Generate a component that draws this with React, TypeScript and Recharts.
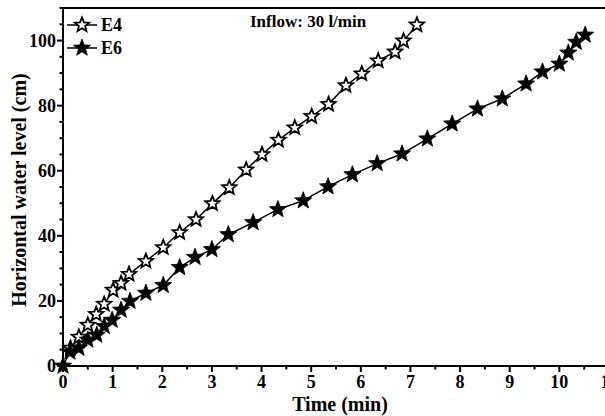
import React from 'react';
import { LineChart, Line, XAxis, YAxis, ReferenceLine } from 'recharts';

// E4 (open stars) and E6 (filled stars)
const e4Time = [0.15, 0.32, 0.5, 0.67, 0.83, 1.01, 1.17, 1.33, 1.67, 2.02, 2.35, 2.68, 3.01, 3.35, 3.69, 4.01, 4.34, 4.67, 5.01, 5.35, 5.7, 6.02, 6.35, 6.69, 6.86, 7.13];
const e4Level = [5.5, 8.9, 12.6, 15.9, 19.0, 23.3, 25.4, 28.2, 32.2, 36.4, 41.0, 45.0, 49.9, 54.8, 60.3, 65.0, 69.4, 73.2, 76.7, 80.4, 86.2, 89.8, 93.8, 96.5, 99.9, 104.8];

const e6Time = [0, 0.14, 0.32, 0.5, 0.68, 0.83, 0.99, 1.17, 1.35, 1.67, 2.02, 2.35, 2.66, 3.0, 3.33, 3.83, 4.33, 4.84, 5.34, 5.83, 6.33, 6.83, 7.34, 7.84, 8.35, 8.85, 9.33, 9.66, 10.0, 10.18, 10.34, 10.52];
const e6Level = [0, 4.3, 5.5, 8.0, 9.5, 12.2, 14.1, 17.2, 19.9, 22.4, 24.8, 30.3, 33.4, 35.8, 40.4, 44.1, 48.1, 50.8, 55.1, 58.8, 62.2, 65.2, 69.8, 74.4, 79.0, 82.1, 86.7, 90.4, 92.8, 96.2, 99.5, 101.7];

const seriesNames = ['E4', 'E6'];
const xTicks = [0, 0.5, 1, 1.5, 2, 2.5, 3, 3.5, 4, 4.5, 5, 5.5, 6, 6.5, 7, 7.5, 8, 8.5, 9, 9.5, 10, 10.5, 11];
const yTicks = [0, 5, 10, 15, 20, 25, 30, 35, 40, 45, 50, 55, 60, 65, 70, 75, 80, 85, 90, 95, 100, 105, 110];
const yLabelled = [0, 20, 40, 60, 80, 100];

const e4Data = e4Time.map((t, i) => ({ t, v: e4Level[i] }));
const e6Data = e6Time.map((t, i) => ({ t, v: e6Level[i] }));

const FONT = '"Liberation Serif", "Times New Roman", serif';

function starPoints(cx: number, cy: number, R: number, r: number) {
  const pts: string[] = [];
  for (let k = 0; k < 10; k++) {
    const rad = k % 2 === 0 ? R : r;
    const a = -Math.PI / 2 + (k * Math.PI) / 5;
    pts.push(`${(cx + rad * Math.cos(a)).toFixed(2)},${(cy + rad * Math.sin(a)).toFixed(2)}`);
  }
  return pts.join(' ');
}

const Star = ({ cx, cy, filled }: { cx: number; cy: number; filled: boolean }) =>
  filled ? (
    <polygon points={starPoints(cx, cy, 9, 3.8)} fill="#000" stroke="#000" strokeWidth={0.8} />
  ) : (
    <polygon points={starPoints(cx, cy, 7.5, 3.3)} fill="#fff" stroke="#000" strokeWidth={1.8} />
  );

const XTick = (props: any) => {
  const { x, y, payload } = props;
  const major = Number.isInteger(payload.value);
  return (
    <g>
      <line x1={x} y1={y} x2={x} y2={y + (major ? 6 : 3.5)} stroke="#000" strokeWidth={2} />
      {major && (
        <text x={x} y={y + 22} textAnchor="middle" fontFamily={FONT} fontWeight="bold" fontSize={18} fill="#000">
          {payload.value}
        </text>
      )}
    </g>
  );
};

const YTick = (props: any) => {
  const { x, y, payload } = props;
  const major = yLabelled.includes(payload.value);
  return (
    <g>
      <line x1={x - (major ? 6 : 3.5)} y1={y} x2={x} y2={y} stroke="#000" strokeWidth={2} />
      {major && (
        <text x={x - 7} y={y} dy="0.35em" textAnchor="end" fontFamily={FONT} fontWeight="bold" fontSize={18} fill="#000">
          {payload.value}
        </text>
      )}
    </g>
  );
};

// legend drawn as an overlay so it takes no room from the plot
const LegendBox = () => (
  <svg width={70} height={50} style={{ position: 'absolute', left: 66, top: 14 }}>
    {seriesNames.map((name, i) => {
      const cy = 11 + i * 23;
      return (
        <g key={name}>
          <line x1={1} y1={cy} x2={31} y2={cy} stroke="#000" strokeWidth={1.5} />
          <Star cx={16} cy={cy} filled={i === 1} />
          <text x={35} y={cy} dy="0.35em" fontFamily={FONT} fontWeight="bold" fontSize={18} fill="#000">
            {name}
          </text>
        </g>
      );
    })}
  </svg>
);

export default function App() {
  return (
    <div style={{ position: 'absolute', left: 0, top: 0, width: 605, height: 416, overflow: 'hidden', background: '#fff' }}>
      <LineChart width={640} height={416} margin={{ top: 8, right: 31, bottom: 0, left: 0 }}>
        <XAxis
          dataKey="t"
          type="number"
          domain={[0, 11]}
          ticks={xTicks}
          interval={0}
          height={50}
          tickSize={0}
          tickMargin={0}
          tickLine={false}
          axisLine={{ stroke: '#000', strokeWidth: 2 }}
          tick={<XTick />}
          allowDuplicatedCategory={false}
          label={(p: any) => (
            <text
              x={p.viewBox.x + p.viewBox.width / 2 + 4}
              y={p.viewBox.y + 45}
              textAnchor="middle"
              fontFamily={FONT}
              fontWeight="bold"
              fontSize={20}
              fill="#000"
            >
              Time (min)
            </text>
          )}
        />
        <YAxis
          dataKey="v"
          type="number"
          domain={[0, 110]}
          ticks={yTicks}
          interval={0}
          width={63}
          tickSize={0}
          tickMargin={0}
          tickLine={false}
          axisLine={{ stroke: '#000', strokeWidth: 2 }}
          tick={<YTick />}
          label={(p: any) => (
            <text
              x={19}
              y={p.viewBox.y + p.viewBox.height / 2 + 3}
              transform={`rotate(-90, 19, ${p.viewBox.y + p.viewBox.height / 2 + 3})`}
              textAnchor="middle"
              dominantBaseline="central"
              fontFamily={FONT}
              fontWeight="bold"
              fontSize={20}
              fill="#000"
            >
              Horizontal water level (cm)
            </text>
          )}
        />
        <ReferenceLine y={110} stroke="#000" strokeWidth={2} />
        <Line
          data={e4Data}
          dataKey="v"
          name={seriesNames[0]}
          type="linear"
          stroke="#000"
          strokeWidth={1.5}
          isAnimationActive={false}
          dot={(p: any) => <Star key={`e4-${p.index}`} cx={p.cx} cy={p.cy} filled={false} />}
        />
        <Line
          data={e6Data}
          dataKey="v"
          name={seriesNames[1]}
          type="linear"
          stroke="#000"
          strokeWidth={1.5}
          isAnimationActive={false}
          dot={(p: any) => <Star key={`e6-${p.index}`} cx={p.cx} cy={p.cy} filled />}
        />
      </LineChart>
      <LegendBox />
      <div
        style={{
          position: 'absolute',
          left: 250,
          top: 12,
          fontFamily: FONT,
          fontWeight: 'bold',
          fontSize: 17,
          whiteSpace: 'nowrap',
        }}
      >
        Inflow: 30 l/min
      </div>
    </div>
  );
}
